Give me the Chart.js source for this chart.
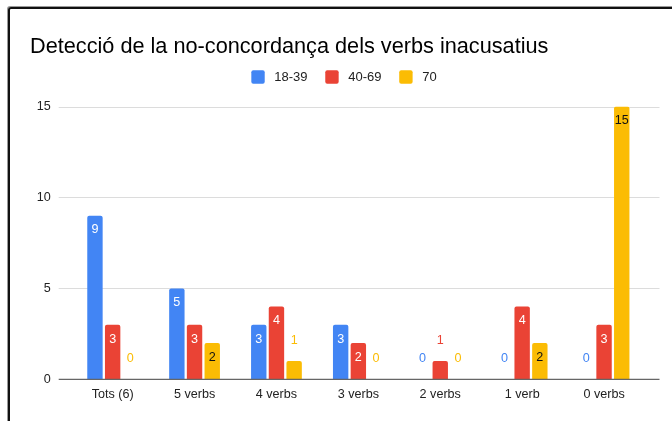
<!DOCTYPE html>
<html><head><meta charset="utf-8">
<script src="https://cdn.jsdelivr.net/npm/chart.js@4.4.0/dist/chart.umd.min.js"></script>
<style>
html,body{margin:0;padding:0;background:#fff;}
#wrap{position:relative;width:672px;height:421px;overflow:hidden;background:#fff;}
#frame{position:absolute;left:8px;top:7px;width:700px;height:460px;border-top:2px solid #111;border-left:2px solid #111;border-top-left-radius:3px;box-shadow:-1px -1px 0 #9a9a9a;pointer-events:none;}
canvas{display:block;}
</style></head><body>
<div id="wrap"><canvas id="c" width="672" height="421"></canvas><div id="frame"></div></div>
<script>
// ---- data ----
const titleText = 'Detecció de la no-concordança dels verbs inacusatius';
const categories = ['Tots (6)', '5 verbs', '4 verbs', '3 verbs', '2 verbs', '1 verb', '0 verbs'];
const seriesNames = ['18-39', '40-69', '70'];
const values1839 = [9, 5, 3, 3, 0, 0, 0];
const values4069 = [3, 3, 4, 2, 1, 4, 3];
const values70   = [0, 2, 1, 0, 0, 2, 15];
const yTicks = [0, 5, 10, 15];

// ---- styles ----
const seriesColors = ['#4285F4', '#EA4335', '#FBBC04'];
const insideLabelColors = ['#ffffff', '#ffffff', '#111111'];
const FONT = "'Liberation Sans', Arial, Helvetica, sans-serif";
Chart.defaults.font.family = FONT;

const gridPlugin = {
  id: 'extGrid',
  beforeDatasetsDraw(chart) {
    const {ctx, chartArea, scales: {y}} = chart;
    ctx.save();
    y.ticks.forEach(t => {
      if (t.value === 0) return;
      const py = Math.round(y.getPixelForValue(t.value)) + 0.5;
      ctx.strokeStyle = '#dcdcdc';
      ctx.lineWidth = 1;
      ctx.beginPath();
      ctx.moveTo(chartArea.left - 13, py);
      ctx.lineTo(chartArea.right + 14.5, py);
      ctx.stroke();
    });
    ctx.restore();
  },
  afterDatasetsDraw(chart) {
    const {ctx, chartArea, scales: {y}} = chart;
    ctx.save();
    const py = y.getPixelForValue(0);
    ctx.strokeStyle = '#666';
    ctx.lineWidth = 1.3;
    ctx.beginPath();
    ctx.moveTo(chartArea.left - 13, py);
    ctx.lineTo(chartArea.right + 14.5, py);
    ctx.stroke();
    ctx.restore();
  }
};

const labelPlugin = {
  id: 'barLabels',
  afterDatasetsDraw(chart) {
    const ctx = chart.ctx;
    ctx.save();
    ctx.font = '12.6px ' + FONT;
    ctx.textAlign = 'center';
    ctx.textBaseline = 'middle';
    chart.data.datasets.forEach((ds, i) => {
      const meta = chart.getDatasetMeta(i);
      meta.data.forEach((el, j) => {
        const v = ds.data[j];
        const h = el.base - el.y;
        let ty, col;
        if (h >= 28) { ty = el.y + 14.3; col = insideLabelColors[i]; }
        else { ty = el.y - 20.5; col = seriesColors[i]; }
        ctx.fillStyle = col;
        ctx.fillText(String(v), el.x, ty);
      });
    });
    ctx.restore();
  }
};

const legendPlugin = {
  id: 'topLegend',
  afterDraw(chart) {
    const ctx = chart.ctx;
    ctx.save();
    ctx.font = '13px ' + FONT;
    const box = 13.4, gapText = 9.6, gapItem = 17.7, cy = 77;
    const items = chart.data.datasets.map(d => ({t: d.label, c: d.backgroundColor, w: ctx.measureText(d.label).width}));
    const total = items.reduce((s, it) => s + box + gapText + it.w, 0) + gapItem * (items.length - 1);
    let x = chart.width / 2 + 8 - total / 2;
    ctx.textBaseline = 'middle';
    ctx.textAlign = 'left';
    items.forEach(it => {
      ctx.fillStyle = it.c;
      ctx.beginPath();
      ctx.roundRect(x, cy - box / 2, box, box, 2);
      ctx.fill();
      ctx.fillStyle = '#222';
      ctx.fillText(it.t, x + box + gapText, cy);
      x += box + gapText + it.w + gapItem;
    });
    ctx.restore();
  }
};

const seriesValues = [values1839, values4069, values70];

new Chart(document.getElementById('c'), {
  type: 'bar',
  data: {
    labels: categories,
    datasets: seriesNames.map((name, i) => ({
      label: name,
      data: seriesValues[i],
      backgroundColor: seriesColors[i],
      borderWidth: 0,
      borderRadius: 2,
      borderSkipped: 'start',
      categoryPercentage: 0.648,
      barPercentage: 0.87
    }))
  },
  options: {
    responsive: false,
    animation: false,
    devicePixelRatio: 1,
    layout: {padding: {left: 30, right: 27, top: 0, bottom: 0}},
    plugins: {
      legend: {display: false},
      tooltip: {enabled: false},
      title: {
        display: true,
        text: titleText,
        align: 'start',
        color: '#000',
        font: {size: 21.7, weight: 'normal', family: FONT},
        padding: {top: 33.8, bottom: 46.7}
      }
    },
    scales: {
      x: {
        grid: {display: false, drawTicks: false},
        border: {display: false},
        ticks: {color: '#222', font: {size: 12.6}, padding: 7.4, maxRotation: 0, autoSkip: false},
        afterFit: s => { s.height = 41.7; }
      },
      y: {
        min: 0, max: 15,
        grid: {display: false, drawTicks: false},
        border: {display: false},
        ticks: {color: '#222', font: {size: 12.6}, padding: 21},
        afterBuildTicks: s => { s.ticks = yTicks.map(v => ({value: v})); },
        afterFit: s => { s.width = 41.7; }
      }
    }
  },
  plugins: [gridPlugin, labelPlugin, legendPlugin]
});
</script>
</body></html>
